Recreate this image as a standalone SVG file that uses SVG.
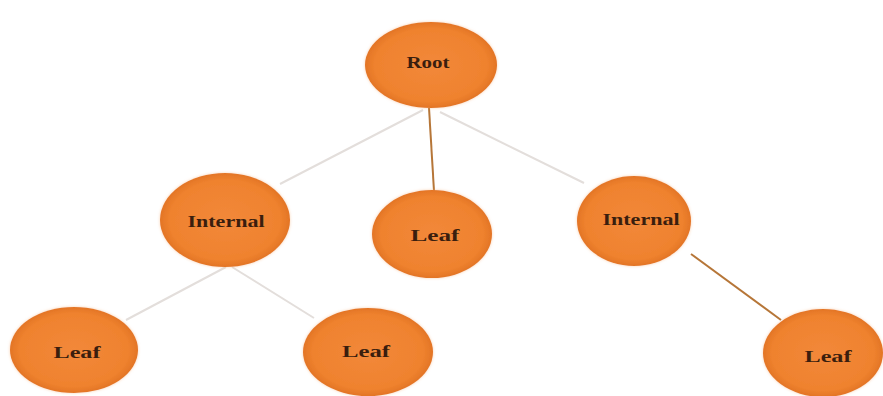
<svg xmlns="http://www.w3.org/2000/svg" width="883" height="396" viewBox="0 0 883 396">
<defs>
<radialGradient id="g" cx="0.5" cy="0.5" r="0.5">
<stop offset="0" stop-color="#f2883a"/>
<stop offset="0.85" stop-color="#ef822e"/>
<stop offset="1" stop-color="#e37526"/>
</radialGradient>
<filter id="glow" x="-20%" y="-20%" width="140%" height="140%">
<feGaussianBlur in="SourceAlpha" stdDeviation="2"/>
<feFlood flood-color="#f5b27a" flood-opacity="0.6"/>
<feComposite operator="in" in2="SourceAlpha"/>
<feGaussianBlur stdDeviation="1.5"/>
<feMerge><feMergeNode/><feMergeNode in="SourceGraphic"/></feMerge>
</filter>
</defs>
<style>
.n{fill:url(#g);filter:url(#glow)}
.t{font-family:"Liberation Serif","Times New Roman",serif;font-size:17px;font-weight:bold;fill:#3a1e0e;text-anchor:middle}
.light{stroke:#e3dedb;stroke-width:2;fill:none}
.dark{stroke:#b67638;stroke-width:2;fill:none}
</style>
<rect width="883" height="396" fill="#ffffff"/>
<g id="connectors">
<line class="light" x1="423" y1="110" x2="280" y2="184"/>
<line class="light" x1="440" y1="112" x2="584" y2="183"/>
<line class="dark" x1="429" y1="108" x2="434" y2="191"/>
<line class="light" x1="226" y1="267" x2="126" y2="320"/>
<line class="light" x1="232" y1="267" x2="314" y2="318"/>
<line class="dark" x1="691" y1="254" x2="781" y2="320"/>
</g>
<g id="root">
<ellipse class="n" cx="431" cy="65" rx="66" ry="43"/>
<text class="t" x="428" y="68" textLength="43" lengthAdjust="spacingAndGlyphs">Root</text>
</g>
<g id="internal-left">
<ellipse class="n" cx="225" cy="220" rx="65" ry="47"/>
<text class="t" x="226" y="227" textLength="77" lengthAdjust="spacingAndGlyphs">Internal</text>
</g>
<g id="leaf-middle">
<ellipse class="n" cx="432" cy="234" rx="60" ry="44"/>
<text class="t" x="435" y="241" textLength="49" lengthAdjust="spacingAndGlyphs">Leaf</text>
</g>
<g id="internal-right">
<ellipse class="n" cx="634" cy="221" rx="57" ry="45"/>
<text class="t" x="641" y="225" textLength="77" lengthAdjust="spacingAndGlyphs">Internal</text>
</g>
<g id="leaf-bottom-left">
<ellipse class="n" cx="74" cy="350" rx="64" ry="43"/>
<text class="t" x="77" y="358" textLength="47" lengthAdjust="spacingAndGlyphs">Leaf</text>
</g>
<g id="leaf-bottom-middle">
<ellipse class="n" cx="368" cy="352" rx="65" ry="44"/>
<text class="t" x="366" y="357" textLength="48" lengthAdjust="spacingAndGlyphs">Leaf</text>
</g>
<g id="leaf-bottom-right">
<ellipse class="n" cx="823" cy="353" rx="60" ry="44"/>
<text class="t" x="828" y="362" textLength="47" lengthAdjust="spacingAndGlyphs">Leaf</text>
</g>
</svg>
